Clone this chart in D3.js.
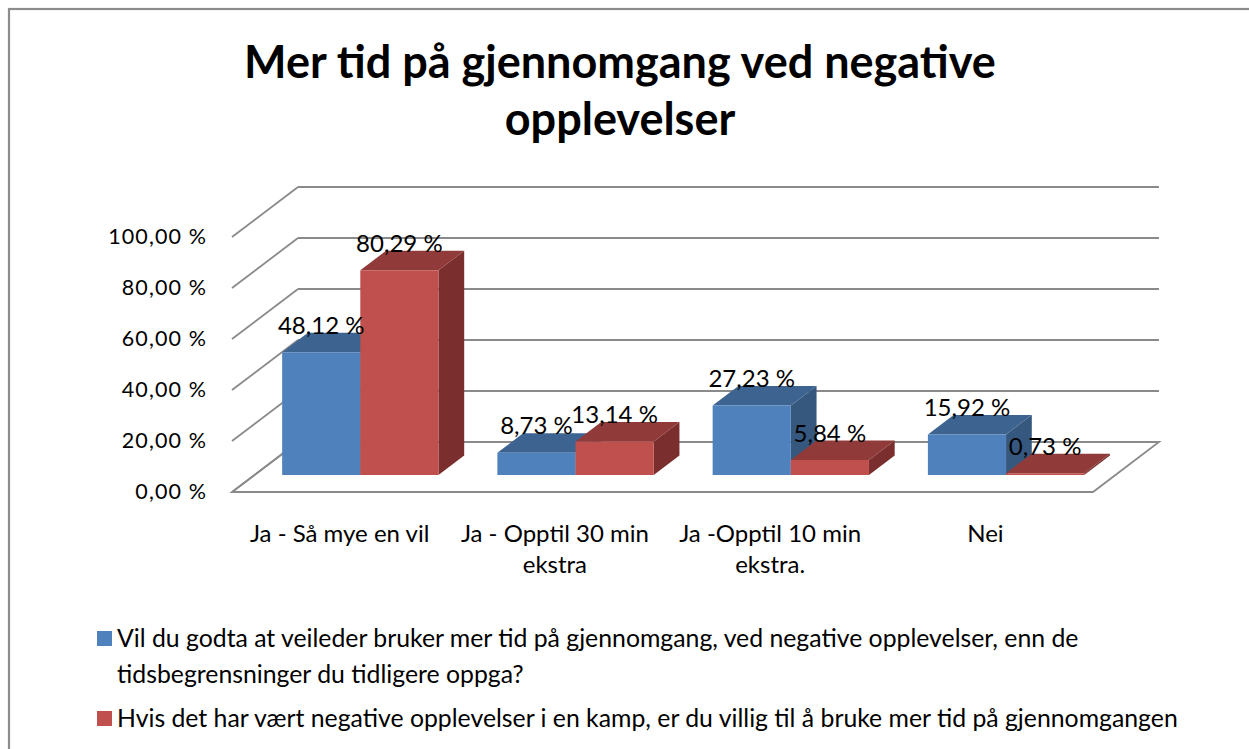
<!DOCTYPE html>
<html><head><meta charset="utf-8">
<script src="https://cdn.jsdelivr.net/npm/d3@7"></script>
<style>
html,body{margin:0;padding:0;background:#fff;overflow:hidden;}
svg{display:block;font-family:Lato,"Open Sans",sans-serif;}
</style></head><body>
<svg id="c" width="1249" height="749"></svg>
<script>
// ---------- data ----------
const titleLines = ["Mer tid på gjennomgang ved negative", "opplevelser"];
const categories = ["Ja - Så mye en vil", "Ja - Opptil 30 min\nekstra", "Ja -Opptil 10 min\nekstra.", "Nei"];
const seriesNames = [
  "Vil du godta at veileder bruker mer tid på gjennomgang, ved negative opplevelser, enn de\ntidsbegrensninger du tidligere oppga?",
  "Hvis det har vært negative opplevelser i en kamp, er du villig til å bruke mer tid på gjennomgangen"
];
const seriesA = [48.12, 8.73, 27.23, 15.92];
const seriesB = [80.29, 13.14, 5.84, 0.73];
const yTicks = [0, 20, 40, 60, 80, 100];

// ---------- styles ----------
const faces = [
  {front: "#4f81bd", top: "#3d6491", side: "#36587f"},
  {front: "#c0504d", top: "#903b39", side: "#7a2e2d"}
];
const gridColor = "#8a8a8a";

// ---------- geometry ----------
const X0 = 232, X1 = 1093, Y0 = 492, DX = 66, DY = 50, H = 255;
const ZF = 0.34, ZB = 0.73;

const svg = d3.select("#c");
const nb = d3.formatLocale({decimal: ",", thousands: " ", grouping: [3], currency: ["", ""]});
const fmt = v => nb.format(".2f")(v) + " %";

const x = d3.scaleBand().domain(categories).range([X0, X1]);
const xs = d3.scaleBand().domain([0, 1]).range([0, x.bandwidth()]).paddingOuter(0.377).align(0.47);
const yh = d3.scaleLinear().domain([0, 100]).range([0, H]);
const yScreen = d3.scaleLinear().domain([0, 100]).range([Y0, Y0 - H]);
const proj = (px, v, z) => [px + DX * z, Y0 - yh(v) - DY * z];
const poly = pts => pts.map(p => p.join(",")).join(" ");

// chart border
svg.append("rect").attr("x", 9).attr("y", 9).attr("width", 1400).attr("height", 900)
  .attr("fill", "none").attr("stroke", "#8c8c8c").attr("stroke-width", 2.2);

// floor
svg.append("polygon")
  .attr("points", poly([proj(X0, 0, 0), proj(X1, 0, 0), proj(X1, 0, 1), proj(X0, 0, 1)]))
  .attr("fill", "#fff").attr("stroke", gridColor).attr("stroke-width", 1.8);

// gridlines: back wall + left wall
const g = svg.append("g").attr("stroke", gridColor).attr("stroke-width", 1.8).attr("fill", "none");
g.selectAll("path.back").data(yTicks).join("path").attr("class", "back")
  .attr("d", v => "M" + proj(X0, v, 1) + "L" + proj(X1, v, 1));
g.selectAll("path.side").data(yTicks).join("path").attr("class", "side")
  .attr("d", v => "M" + proj(X0, v, 0) + "L" + proj(X0, v, 1));

// y axis labels
const yAxis = d3.axisLeft(yScreen).tickValues(yTicks).tickSize(0).tickPadding(25).tickFormat(fmt);
svg.append("g").attr("transform", `translate(${X0},0)`).call(yAxis)
  .call(a => a.select(".domain").remove())
  .selectAll("text").attr("font-family", "Lato, sans-serif").attr("font-size", 21.5)
  .attr("letter-spacing", 1.1).attr("fill", "#000");

// bars
const series = [seriesA, seriesB];
const bars = [];
categories.forEach((c, ci) => {
  series.forEach((s, si) => {
    const xl = x(c) + xs(si), xr = xl + xs.bandwidth();
    bars.push({c, si, v: s[ci], xl, xr});
  });
});
const bg = svg.append("g");
bars.forEach(b => {
  const f = faces[b.si];
  const gb = bg.append("g");
  gb.append("polygon").attr("fill", f.side)
    .attr("points", poly([proj(b.xr, 0, ZF), proj(b.xr, 0, ZB), proj(b.xr, b.v, ZB), proj(b.xr, b.v, ZF)]));
  gb.append("polygon").attr("fill", f.top)
    .attr("points", poly([proj(b.xl, b.v, ZF), proj(b.xr, b.v, ZF), proj(b.xr, b.v, ZB), proj(b.xl, b.v, ZB)]));
  gb.append("polygon").attr("fill", f.front)
    .attr("points", poly([proj(b.xl, 0, ZF), proj(b.xr, 0, ZF), proj(b.xr, b.v, ZF), proj(b.xl, b.v, ZF)]));
});

// value labels
svg.append("g").selectAll("text").data(bars).join("text")
  .attr("x", b => (b.xl + b.xr) / 2 + DX * ZF)
  .attr("y", b => proj(0, b.v, ZB)[1] + 1)
  .attr("text-anchor", "middle").attr("font-size", 24).attr("fill", "#000")
  .text(b => fmt(b.v));

// category labels
const xAxis = d3.axisBottom(x).tickSize(0).tickPadding(0);
svg.append("g").attr("transform", `translate(0,${Y0})`).call(xAxis)
  .call(a => a.select(".domain").remove())
  .selectAll("text").each(function(d) {
    const t = d3.select(this).text(null).attr("dy", null).attr("y", 50)
      .attr("font-family", "Lato, sans-serif").attr("font-size", 24).attr("fill", "#000");
    d.split("\n").forEach((line, i) => {
      t.append("tspan").attr("x", 0).attr("y", 50 + i * 31).text(line);
    });
  });

// title
svg.append("g").selectAll("text").data(titleLines).join("text")
  .attr("x", 620).attr("y", (d, i) => 78 + i * 57)
  .attr("text-anchor", "middle").attr("font-weight", "bold").attr("font-size", 45).attr("fill", "#000")
  .text(d => d);

// legend
const legendBase = [647, 727];
const lg = svg.append("g");
seriesNames.forEach((name, i) => {
  lg.append("rect").attr("x", 97).attr("y", legendBase[i] - 16).attr("width", 15).attr("height", 15)
    .attr("fill", faces[i].front);
  const t = lg.append("text").attr("font-size", 24.8).attr("fill", "#000");
  name.split("\n").forEach((line, j) => {
    t.append("tspan").attr("x", 117).attr("y", legendBase[i] + j * 36).text(line);
  });
});
</script>
</body></html>
